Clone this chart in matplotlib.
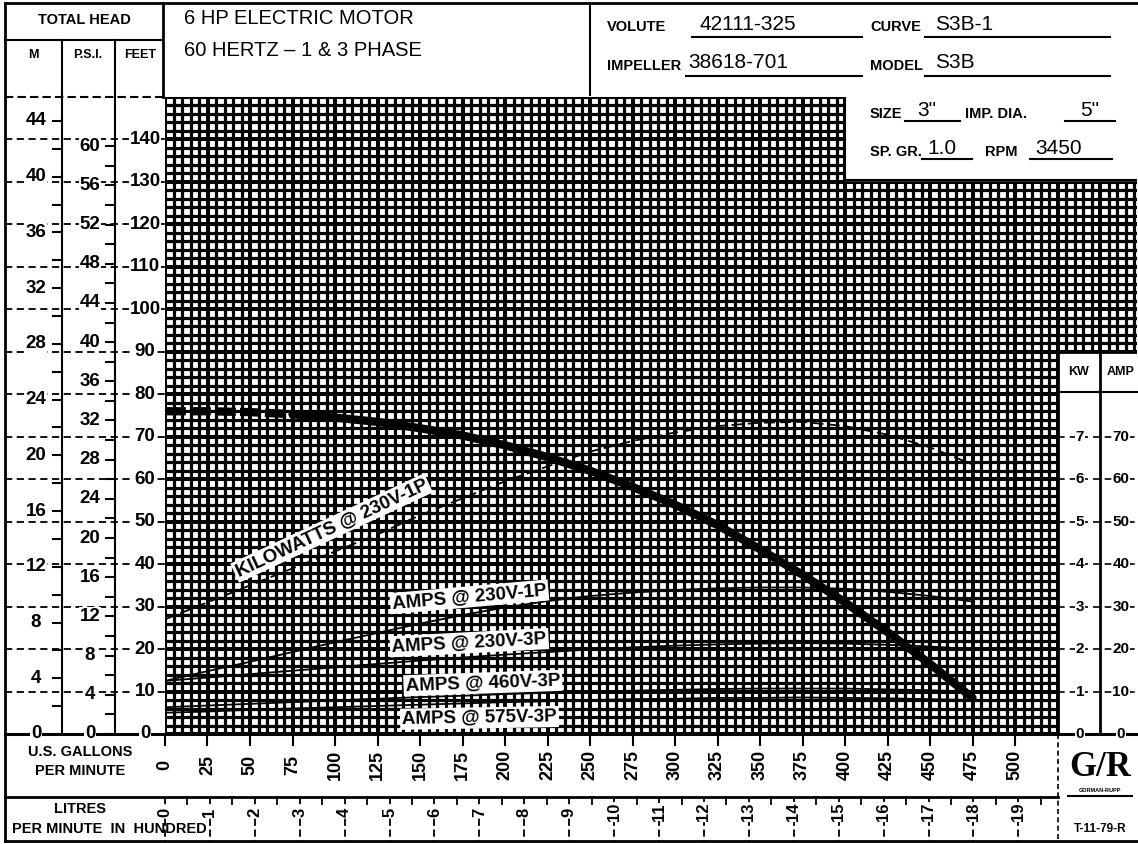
import numpy as np
import matplotlib.pyplot as plt
from matplotlib import transforms

plt.rcParams['font.family'] = ['Liberation Sans', 'DejaVu Sans']

# ---- curve data ----
gpm = [0, 25, 50, 75, 100, 125, 150, 175, 200, 225, 250, 275, 300, 325, 350, 375, 400, 425, 450, 475]
head_ft = [76, 76, 75.8, 75.3, 74.5, 73.5, 72, 70.3, 68, 65.2, 62, 58.2, 54, 49.2, 43.5, 37.5, 31, 24, 16.5, 8.5]
kw_230_1p = [2.7, 3.1, 3.5, 3.9, 4.3, 4.7, 5.15, 5.55, 5.95, 6.3, 6.65, 6.9, 7.1, 7.25, 7.33, 7.35, 7.25, 7.05, 6.75, 6.35]
amps_230_1p = [12.5, 14.8, 17, 19.3, 21.6, 23.8, 26, 28, 29.8, 31.3, 32.5, 33.3, 33.9, 34.3, 34.5, 34.5, 34.2, 33.5, 32.5, 31.2]
amps_230_3p = [12.5, 13.3, 14.1, 14.9, 15.7, 16.5, 17.3, 18, 18.7, 19.3, 19.9, 20.4, 20.8, 21.1, 21.3, 21.4, 21.3, 21, 20.6, 20]
amps_460_3p = [6.3, 6.7, 7.1, 7.5, 7.9, 8.3, 8.7, 9.0, 9.4, 9.7, 10.0, 10.2, 10.4, 10.6, 10.7, 10.7, 10.7, 10.5, 10.3, 10.0]
amps_575_3p = [5.0, 5.3, 5.7, 6.0, 6.3, 6.6, 6.9, 7.2, 7.5, 7.7, 8.0, 8.2, 8.3, 8.5, 8.5, 8.6, 8.5, 8.4, 8.2, 8.0]

# ---- scales ----
feet_ticks = list(range(0, 141, 10))
m_ticks = list(range(0, 45, 4))
psi_ticks = list(range(0, 61, 4))
kw_ticks = list(range(0, 8))
amp_ticks = list(range(0, 71, 10))
gpm_ticks = list(range(0, 501, 25))
litre_ticks = list(range(0, 20))  # hundreds of litres per minute
FT_PER_M = 3.281
FT_PER_PSI = 2.307
GPM_PER_100L = 100 / 3.785

W, H = 1138, 844
fig = plt.figure(figsize=(W / 100, H / 100), dpi=100)

# main plot area: gpm 0..572 , feet 0..150
ax = fig.add_axes([165 / W, 110 / H, 972.4 / W, 637 / H])
ax.set_xlim(0, 572)
ax.set_ylim(0, 150)
ax.axis('off')

# frame in pixel coordinates for the form lines and texts
fr = fig.add_axes([0, 0, 1, 1], zorder=5)
fr.set_xlim(0, W)
fr.set_ylim(H, 0)
fr.axis('off')
fr.patch.set_alpha(0)

px_ft = transforms.blended_transform_factory(fr.transData, ax.transData)
gpm_px = transforms.blended_transform_factory(ax.transData, fr.transData)

# graph paper
vx = np.arange(0, 573, 5)
ax.vlines(vx, 0, 150, color='k', lw=[2.9 if v % 25 == 0 else 2.3 for v in vx], zorder=1)
hy = np.arange(0, 151, 2)
ax.hlines(hy, 0, 572, color='k', lw=[2.9 if v % 10 == 0 else 2.3 for v in hy], zorder=1)
# white boxes over the paper
ax.add_patch(plt.Rectangle((400, 130.5), 200, 30, color='white', zorder=1.5))
ax.add_patch(plt.Rectangle((525, -5), 60, 95, color='white', zorder=1.5))
ax.plot([400, 400, 572], [150, 130.5, 130.5], color='k', lw=1.5, zorder=1.6)
ax.plot([525, 525, 572], [0, 90, 90], color='k', lw=2, zorder=1.6)

# curves
ax.plot(gpm[:4], head_ft[:4], color='k', lw=6, ls=(0, (2.5, 0.5)), zorder=3)
ax.plot(gpm[3:], head_ft[3:], color='k', lw=6, solid_capstyle='round', zorder=3)
ax.plot(gpm, amps_230_1p, color='k', lw=1.3, zorder=3)
ax.plot(gpm, amps_230_3p, color='k', lw=1.3, zorder=3)
ax.plot(gpm, amps_460_3p, color='k', lw=1.3, zorder=3)
ax.plot(gpm, amps_575_3p, color='k', lw=1.3, zorder=3)
axk = ax.twinx()
axk.set_ylim(0, 15)
axk.axis('off')
axk.plot(gpm, kw_230_1p, color='k', lw=1.3, ls=(0, (6, 3)), zorder=3)

lab = dict(fontsize=13.5, fontweight='bold', ha='center', va='center', zorder=4,
           bbox=dict(facecolor='white', edgecolor='none', pad=1.5))
ax.text(98, 48.5, 'KILOWATTS @ 230V-1P', rotation=25, **lab)
ax.text(179, 32.3, 'AMPS @ 230V-1P', rotation=5, **lab)
ax.text(179, 21.5, 'AMPS @ 230V-3P', rotation=3, **lab)
ax.text(187, 12.0, 'AMPS @ 460V-3P', rotation=2, **lab)
ax.text(185, 3.8, 'AMPS @ 575V-3P', rotation=1, **lab)

# ---- form lines ----
def hl(y, x0, x1, **kw):
    fr.plot([x0, x1], [y, y], color='k', lw=kw.pop('lw', 1.5), **kw)

def vl(x, y0, y1, **kw):
    fr.plot([x, x], [y0, y1], color='k', lw=kw.pop('lw', 1.5), **kw)

hl(3, 5, 1138, lw=2)
hl(841, 5, 1138, lw=2)
vl(5, 3, 841, lw=2)
vl(163, 3, 97, lw=2)
vl(590, 3, 95, lw=1.5)
hl(40, 5, 163)
vl(62, 40, 734)
vl(115, 40, 734)
hl(97, 5, 163, lw=1.5, ls=(0, (4, 2)))
hl(734, 5, 1138, lw=2.2)
hl(797, 5, 1058, lw=2)
vl(1058, 734, 841, lw=1.2, ls=(0, (3, 2)))
vl(1100, 90, 0, lw=2, transform=px_ft)
fr.plot([1058, 1138], [80.5, 80.5], color='k', lw=1.5, transform=px_ft)

# left scales
bold = dict(fontweight='bold', ha='center', va='center')
for f in feet_ticks:
    fr.plot([5, 165], [f, f], color='k', lw=1.3, ls=(0, (4, 2.5)), transform=px_ft)
    fr.text(145, f, str(f), fontsize=13.5, transform=px_ft, **bold,
            bbox=dict(facecolor='white', edgecolor='none', pad=0.5))
for m in range(0, 46, 2):
    fr.plot([53, 62], [m * FT_PER_M] * 2, color='k', lw=1.5, transform=px_ft)
for m in m_ticks:
    fr.text(36, m * FT_PER_M, str(m), fontsize=13.5, transform=px_ft, **bold,
            bbox=dict(facecolor='white', edgecolor='none', pad=0.5))
for p in range(0, 62, 2):
    fr.plot([106, 115], [p * FT_PER_PSI] * 2, color='k', lw=1.5, transform=px_ft)
for p in psi_ticks:
    fr.text(90, p * FT_PER_PSI, str(p), fontsize=13.5, transform=px_ft, **bold,
            bbox=dict(facecolor='white', edgecolor='none', pad=0.5))

# right KW / AMP scales
fr.text(1079, 85.3, 'KW', fontsize=9, transform=px_ft, **bold)
fr.text(1121, 85.3, 'AMP', fontsize=9, transform=px_ft, **bold)
for k, a in zip(kw_ticks, amp_ticks):
    fr.plot([1058, 1138], [a, a], color='k', lw=1.2, ls=(0, (4, 3)), transform=px_ft)
    fr.text(1080, a, str(k), fontsize=11, transform=px_ft, **bold,
            bbox=dict(facecolor='white', edgecolor='none', pad=0.3))
    fr.text(1121, a, str(a), fontsize=11, transform=px_ft, **bold,
            bbox=dict(facecolor='white', edgecolor='none', pad=0.3))

# bottom flow scales
for g in gpm_ticks:
    fr.plot([g, g], [734, 745], color='k', lw=1.5, transform=gpm_px)
    fr.text(g, 765, str(g), fontsize=13, rotation=90, transform=gpm_px, **bold)
for l in np.arange(0, 19.6, 0.5):
    y1 = 841 if l % 1 == 0 else 804
    fr.plot([l * GPM_PER_100L] * 2, [797, y1], color='k', lw=1.3,
            ls='-' if l % 1 else (0, (4, 2)), transform=gpm_px)
for l in litre_ticks:
    fr.text(l * GPM_PER_100L, 812, str(l), fontsize=12, rotation=90, transform=gpm_px, **bold,
            bbox=dict(facecolor='white', edgecolor='none', pad=0.3))
fr.text(80, 752, 'U.S. GALLONS', fontsize=10.5, **bold)
fr.text(80, 771, 'PER MINUTE', fontsize=10.5, **bold)
fr.text(80, 809, 'LITRES', fontsize=10.5, **bold)
fr.text(12, 829, 'PER MINUTE  IN  HUNDRED', fontsize=10.5, fontweight='bold', ha='left', va='center')

# logo block
fr.text(1100, 767, 'G/R', fontsize=25, family='Liberation Serif', **bold)
fr.text(1100, 790, 'GORMAN-RUPP', fontsize=4, **bold)
hl(796, 1068, 1132, lw=1.5)
fr.text(1100, 829, 'T-11-79-R', fontsize=8.5, **bold)

# header
fr.text(84, 20, 'TOTAL HEAD', fontsize=10.5, **bold)
fr.text(33, 55, 'M', fontsize=9, **bold)
fr.text(88, 55, 'P.S.I.', fontsize=9, **bold)
fr.text(140, 55, 'FEET', fontsize=9, **bold)
fr.text(184, 18, '6 HP ELECTRIC MOTOR', fontsize=14.5, ha='left', va='center')
fr.text(184, 50, '60 HERTZ \u2013 1 & 3 PHASE', fontsize=14.5, ha='left', va='center')

small = dict(fontsize=10.5, fontweight='bold', ha='left', va='center')
val = dict(fontsize=15, ha='left', va='center')
fr.text(607, 27, 'VOLUTE', **small)
fr.text(700, 24, '42111-325', **val)
hl(37, 692, 862)
fr.text(870, 27, 'CURVE', **small)
fr.text(935, 24, 'S3B-1', **val)
hl(37, 925, 1110)
fr.text(607, 66, 'IMPELLER', **small)
fr.text(688, 63, '38618-701', **val)
hl(76, 686, 862)
fr.text(870, 66, 'MODEL', **small)
fr.text(935, 63, 'S3B', **val)
hl(76, 925, 1110)
fr.text(870, 114, 'SIZE', **small)
fr.text(917, 110, '3"', **val)
hl(121, 905, 960)
fr.text(965, 114, 'IMP. DIA.', **small)
fr.text(1080, 110, '5"', **val)
hl(121, 1065, 1115)
fr.text(870, 152, 'SP. GR.', **small)
fr.text(927, 148, '1.0', **val)
hl(159, 922, 972)
fr.text(985, 152, 'RPM', **small)
fr.text(1035, 148, '3450', **val)
hl(159, 1030, 1112)

fig.savefig('out.png', dpi=100)
